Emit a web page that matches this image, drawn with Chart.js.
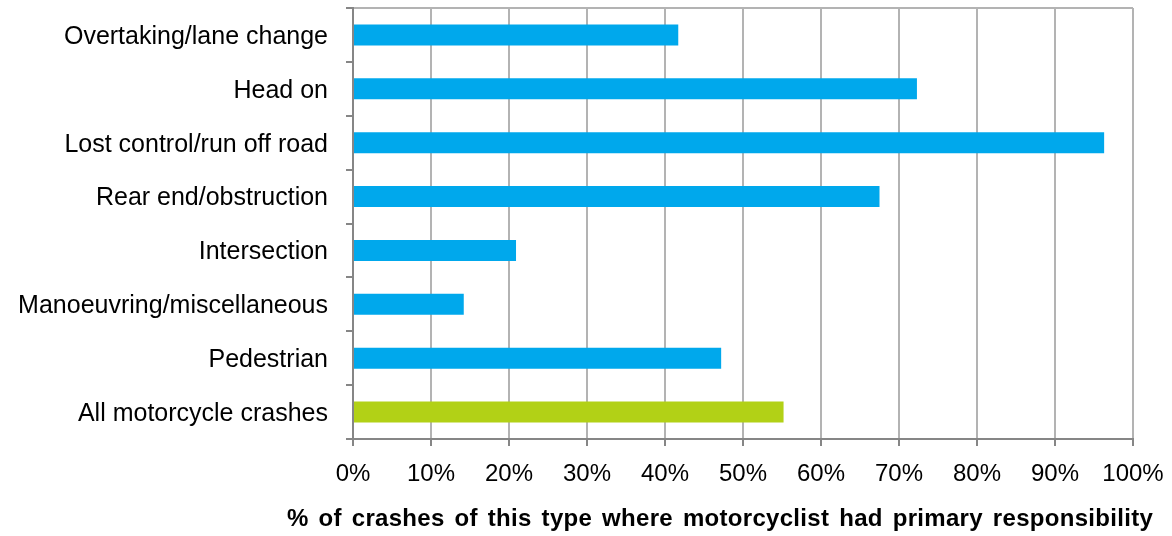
<!DOCTYPE html>
<html lang="en">
<head>
    <meta charset="UTF-8">
    <title>Motorcyclist responsibility by crash type</title>
    <script src="https://cdn.jsdelivr.net/npm/chart.js"></script>
    <style>
        body {
            margin: 0;
            background: #ffffff;
        }
        .wrap {
            position: relative;
            width: 1172px;
            height: 536px;
        }
    </style>
</head>
<body>
    <div class="wrap">
        <canvas id="chart"></canvas>
    </div>

    <script>
        // data
        const crashTypes = [
            'Overtaking/lane change',
            'Head on',
            'Lost control/run off road',
            'Rear end/obstruction',
            'Intersection',
            'Manoeuvring/miscellaneous',
            'Pedestrian',
            'All motorcycle crashes'
        ];
        const pctMotorcyclistResponsible = [41.7, 72.3, 96.3, 67.5, 20.9, 14.2, 47.2, 55.2];
        const xTicks = [0, 10, 20, 30, 40, 50, 60, 70, 80, 90, 100];
        const xTitle = '% of crashes of this type where motorcyclist had primary responsibility';

        const blue = '#00A8EC';
        const green = '#B2D116';
        const axisGrey = '#868686';
        const gridGrey = '#b3b3b3';
        const fontFamily = '"Liberation Sans", Arial, sans-serif';

        // bottom title, drawn centred under the labels like in the original
        const bottomTitle = {
            id: 'bottomTitle',
            afterDraw(chart) {
                const ctx = chart.ctx;
                ctx.save();
                ctx.font = 'bold 24px ' + fontFamily;
                ctx.letterSpacing = '0.3px';
                ctx.wordSpacing = '3px';
                ctx.fillStyle = '#000';
                ctx.textAlign = 'center';
                ctx.textBaseline = 'middle';
                ctx.fillText(xTitle, 720, 519);
                ctx.restore();
            }
        };

        new Chart(document.getElementById('chart'), {
            type: 'bar',
            data: {
                labels: crashTypes,
                datasets: [{
                    data: pctMotorcyclistResponsible,
                    backgroundColor: crashTypes.map((_, i) => i === crashTypes.length - 1 ? green : blue),
                    borderWidth: 0,
                    categoryPercentage: 1,
                    barPercentage: 0.39
                }]
            },
            options: {
                indexAxis: 'y',
                responsive: true,
                maintainAspectRatio: false,
                animation: false,
                layout: {
                    padding: { left: 0, right: 39, top: 8, bottom: 0 }
                },
                plugins: {
                    legend: { display: false },
                    tooltip: { enabled: false }
                },
                scales: {
                    x: {
                        min: 0,
                        max: 100,
                        afterBuildTicks(scale) {
                            scale.ticks = xTicks.map(v => ({ value: v }));
                        },
                        afterFit(scale) {
                            scale.height = 97;
                            scale.paddingLeft = 0;
                            scale.paddingRight = 0;
                        },
                        grid: {
                            color: gridGrey,
                            lineWidth: 2,
                            tickColor: axisGrey,
                            tickLength: 7
                        },
                        border: {
                            color: axisGrey,
                            width: 2
                        },
                        ticks: {
                            color: '#000',
                            padding: 14,
                            maxRotation: 0,
                            font: { family: fontFamily, size: 24 },
                            callback: v => v + '%'
                        }
                    },
                    y: {
                        afterFit(scale) {
                            scale.width = 353;
                            scale.paddingTop = 0;
                            scale.paddingBottom = 0;
                        },
                        grid: {
                            offset: true,
                            color: ctx => ctx.index === 0 ? gridGrey : 'rgba(0,0,0,0)',
                            lineWidth: 2,
                            tickColor: axisGrey,
                            tickLength: 7
                        },
                        border: {
                            color: axisGrey,
                            width: 2
                        },
                        ticks: {
                            color: '#000',
                            padding: 18,
                            labelOffset: 2,
                            font: { family: fontFamily, size: 25 }
                        }
                    }
                }
            },
            plugins: [bottomTitle]
        });
    </script>
</body>
</html>
